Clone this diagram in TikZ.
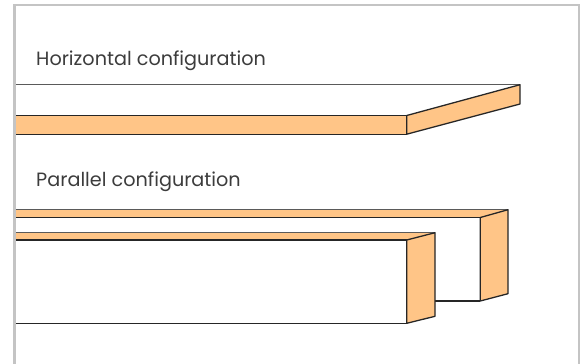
\documentclass[tikz,border=0pt]{standalone}
\usepackage{fontspec}
\setmainfont{Poppins}
\definecolor{panelorange}{HTML}{FFC587}
\definecolor{framegray}{HTML}{C4C4C4}
\definecolor{edgedark}{HTML}{262626}
\definecolor{edgegray}{HTML}{5A5A5A}
\definecolor{labelgray}{HTML}{3C3C3C}
\tikzset{
	panel/.style={draw=edgedark,fill=panelorange,line width=1.1pt,line join=round},
	edge/.style={draw=edgedark,line width=1.1pt},
	backedge/.style={draw=edgegray,line width=1.1pt},
	caption/.style={anchor=base west,inner sep=0,text=labelgray,font=\fontsize{16.4}{18}\selectfont}
}
\begin{document}
\begin{tikzpicture}[x=0.03cm,y=-0.03cm]
	\useasboundingbox (0,0) rectangle (583,364);
	% frame, open at the bottom
	\draw[framegray,line width=2.2pt] (14.5,364)--(14.5,5.2)--(579,5.2)--(579,364);
	\node[caption] (horizontal) at (36,65) {Horizontal configuration};
	\node[caption] (parallel) at (36,186) {Parallel configuration};
	% horizontal slab
	\draw[backedge] (16,84.7)--(520,84.7);
	\fill[panelorange] (16,115.5) rectangle (406.7,134.2);
	\draw[edge] (16,115.5)--(406.7,115.5);
	\draw[edge] (16,134.2)--(406.7,134.2);
	\draw[panel] (406.7,115.5)--(520,84.7)--(520,104)--(406.7,134.2)--cycle;
	% rear box
	\fill[panelorange] (16,209.7) rectangle (508,217.5);
	\draw[backedge] (16,209.7)--(508,209.7);
	\draw[edge] (16,217.5)--(480.3,217.5);
	\draw[edge] (435,301)--(480.3,301);
	\draw[panel] (480.3,217.5)--(508,209.7)--(508,293.7)--(480.3,301)--cycle;
	% front box
	\fill[panelorange] (16,232.7) rectangle (435,240);
	\draw[backedge] (16,232.7)--(435,232.7);
	\draw[edge] (16,240)--(406.7,240);
	\draw[edge] (16,323.3)--(406.7,323.3);
	\draw[panel] (406.7,240)--(435,232.7)--(435,316.3)--(406.7,323.3)--cycle;
\end{tikzpicture}
\end{document}
